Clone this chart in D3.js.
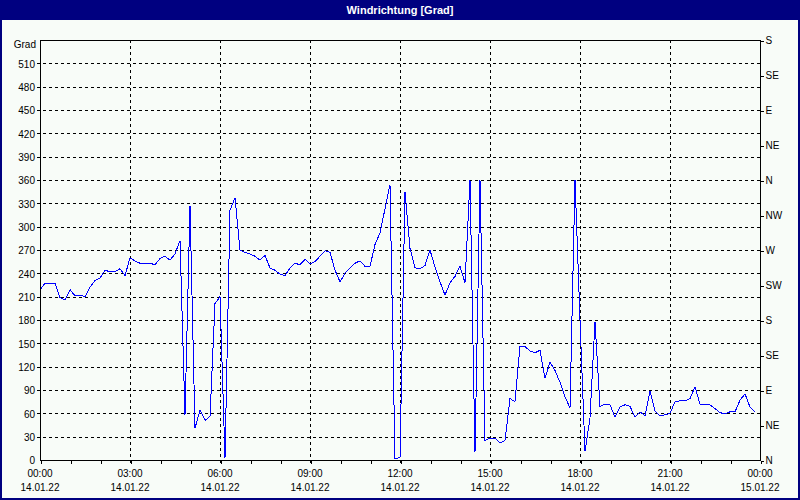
<!DOCTYPE html>
<html>
<head>
<meta charset="utf-8">
<script src="https://cdnjs.cloudflare.com/ajax/libs/d3/7.8.5/d3.min.js"></script>
<style>
  body { margin: 0; background: #fff; }
  svg { display: block; }
  text { font-family: "Liberation Sans", Arial, sans-serif; font-size: 10px; fill: #000; }
</style>
</head>
<body>
<svg></svg>
<script>
// chart texts
const title = 'Windrichtung [Grad]';
const unitLabel = 'Grad';

// time axis: 14.01.22 00:00 .. 15.01.22 00:00, one value every 10 minutes
const startTime = new Date(2022, 0, 14, 0, 0);
const endTime = new Date(2022, 0, 15, 0, 0);
const stepMinutes = 10;
const labelHours = [0, 3, 6, 9, 12, 15, 18, 21, 24];

// left axis ticks (degrees) and right axis compass labels
const gradTicks = [0, 30, 60, 90, 120, 150, 180, 210, 240, 270, 300, 330, 360, 390, 420, 450, 480, 510];
const compassTicks = [0, 45, 90, 135, 180, 225, 270, 315, 360, 405, 450, 495, 540];
const compassLabels = ['N', 'NE', 'E', 'SE', 'S', 'SW', 'W', 'NW', 'N', 'NE', 'E', 'SE', 'S'];

// wind direction [Grad]
const direction = [
  219, 227, 227, 227, 209, 206, 219, 211, 212, 210, 222, 231,
  234, 244, 242, 242, 246, 237, 260, 256, 253, 253, 253, 251,
  259, 262, 257, 265, 282, 58, 327, 41, 64, 51, 56, 201,
  210, 2, 321, 337, 270, 267, 265, 262, 257, 263, 247, 244,
  239, 237, 247, 253, 251, 258, 252, 255, 262, 269, 267, 244,
  229, 240, 247, 253, 256, 249, 249, 277, 292, 323, 354, 2,
  3, 345, 272, 247, 246, 250, 270, 248, 229, 212, 228, 236,
  249, 228, 360, 10, 360, 25, 28, 28, 22, 25, 79, 75,
  146, 146, 140, 138, 141, 105, 126, 115, 100, 81, 67, 360,
  180, 11, 54, 178, 69, 72, 71, 55, 68, 71, 69, 55,
  62, 57, 89, 63, 57, 58, 60, 75, 76, 76, 79, 94,
  72, 71, 71, 66, 61, 59, 62, 62, 77, 85, 68, 62
];

const W = 800, H = 500;
const margin = { top: 40, right: 40, bottom: 40, left: 40 };

const svg = d3.select('svg')
  .attr('width', W)
  .attr('height', H);

svg.append('rect')
  .attr('width', W)
  .attr('height', H)
  .attr('fill', '#f8fcf8');

let x = d3.scaleTime()
  .domain([startTime, endTime])
  .range([margin.left, W - margin.right]);

let y = d3.scaleLinear()
  .domain([0, 540])
  .range([H - margin.bottom, margin.top]);

let timeOf = i => d3.timeMinute.offset(startTime, i * stepMinutes);
let labelTimes = labelHours.map(h => d3.timeHour.offset(startTime, h));

// dashed grid
let grid = svg.append('g')
  .attr('stroke', '#000')
  .attr('stroke-dasharray', '3,3')
  .attr('shape-rendering', 'crispEdges');

grid.selectAll('line.h')
  .data(gradTicks.filter(d => d > 0))
  .enter()
  .append('line')
  .attr('class', 'h')
  .attr('x1', margin.left - 3)
  .attr('x2', W - margin.right)
  .attr('y1', d => Math.round(y(d)) + 0.5)
  .attr('y2', d => Math.round(y(d)) + 0.5);

grid.selectAll('line.v')
  .data(labelTimes.slice(1, -1))
  .enter()
  .append('line')
  .attr('class', 'v')
  .attr('x1', d => Math.round(x(d)) + 0.5)
  .attr('x2', d => Math.round(x(d)) + 0.5)
  .attr('y1', margin.top)
  .attr('y2', H - margin.bottom + 3);

// left axis
svg.append('g')
  .attr('transform', `translate(${margin.left},0.5)`)
  .call(d3.axisLeft(y).tickValues(gradTicks).tickSize(0).tickPadding(5))
  .call(g => g.select('.domain').remove())
  .selectAll('text')
  .style('font-size', '10px');

svg.append('text')
  .attr('x', margin.left - 4)
  .attr('y', 45)
  .attr('dy', '0.32em')
  .attr('text-anchor', 'end')
  .text(unitLabel);

// right axis
svg.append('g')
  .attr('transform', `translate(${W - margin.right + 0.5},0.5)`)
  .attr('shape-rendering', 'crispEdges')
  .call(d3.axisRight(y)
    .tickValues(compassTicks)
    .tickFormat((d, i) => compassLabels[i])
    .tickSize(3)
    .tickPadding(2))
  .call(g => g.select('.domain').remove())
  .selectAll('text')
  .style('font-size', '10px');

// bottom axis: hourly minor ticks
svg.append('g')
  .attr('transform', `translate(0.5,${H - margin.bottom + 0.5})`)
  .attr('shape-rendering', 'crispEdges')
  .call(d3.axisBottom(x)
    .ticks(d3.timeHour.every(1))
    .tickSize(3)
    .tickFormat(''))
  .call(g => g.select('.domain').remove());

let fmtTime = d3.timeFormat('%H:%M'),
    fmtDate = d3.timeFormat('%d.%m.%y');

let xl = svg.append('g')
  .selectAll('g')
  .data(labelTimes)
  .enter()
  .append('g')
  .attr('transform', d => `translate(${x(d)},0)`);

xl.append('text')
  .attr('y', 474)
  .attr('dy', '0.32em')
  .attr('text-anchor', 'middle')
  .text(fmtTime);

xl.append('text')
  .attr('y', 488)
  .attr('dy', '0.32em')
  .attr('text-anchor', 'middle')
  .text(fmtDate);

// data line
let line = d3.line()
  .x((d, i) => x(timeOf(i)))
  .y(d => y(d));

svg.append('path')
  .datum(direction)
  .attr('fill', 'none')
  .attr('stroke', '#0000ff')
  .attr('stroke-width', 1)
  .attr('shape-rendering', 'crispEdges')
  .attr('d', line);

// plot frame
svg.append('rect')
  .attr('x', margin.left + 0.5)
  .attr('y', margin.top + 0.5)
  .attr('width', W - margin.left - margin.right)
  .attr('height', H - margin.top - margin.bottom)
  .attr('fill', 'none')
  .attr('stroke', '#000')
  .attr('shape-rendering', 'crispEdges');

// title bar and window border
svg.append('rect')
  .attr('width', W)
  .attr('height', 20)
  .attr('fill', '#000080');

svg.append('text')
  .attr('x', W / 2)
  .attr('y', 10)
  .attr('dy', '0.35em')
  .attr('text-anchor', 'middle')
  .attr('fill', '#fff')
  .style('fill', '#fff')
  .style('font-weight', 'bold')
  .style('font-size', '11px')
  .text(title);

svg.append('rect')
  .attr('x', 1)
  .attr('y', 1)
  .attr('width', W - 2)
  .attr('height', H - 2)
  .attr('fill', 'none')
  .attr('stroke', '#000080')
  .attr('stroke-width', 2);
</script>
</body>
</html>
